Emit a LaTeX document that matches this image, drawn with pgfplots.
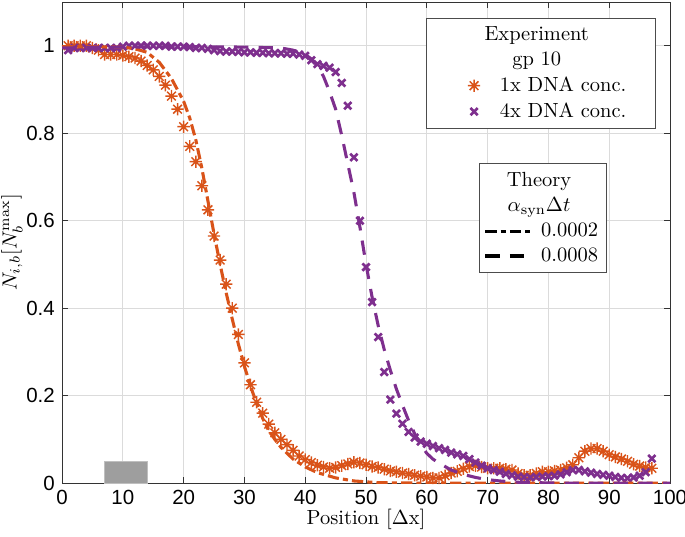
\documentclass[border=0pt]{standalone}
\usepackage{pgfplots}
\pgfplotsset{compat=1.18}
\usepackage{fontspec}
\newfontfamily\ticksf{Liberation Sans}
\definecolor{morange}{RGB}{217,83,25}
\definecolor{mpurple}{RGB}{126,47,142}
\pgfdeclareplotmark{mstar}{%
 \pgfpathmoveto{\pgfqpoint{-\pgfplotmarksize}{0pt}}\pgfpathlineto{\pgfqpoint{\pgfplotmarksize}{0pt}}%
 \pgfpathmoveto{\pgfqpoint{0pt}{-\pgfplotmarksize}}\pgfpathlineto{\pgfqpoint{0pt}{\pgfplotmarksize}}%
 \pgfpathmoveto{\pgfqpoint{-.707\pgfplotmarksize}{-.707\pgfplotmarksize}}\pgfpathlineto{\pgfqpoint{.707\pgfplotmarksize}{.707\pgfplotmarksize}}%
 \pgfpathmoveto{\pgfqpoint{-.707\pgfplotmarksize}{.707\pgfplotmarksize}}\pgfpathlineto{\pgfqpoint{.707\pgfplotmarksize}{-.707\pgfplotmarksize}}%
 \pgfusepathqstroke}
\pgfplotsset{
 common/.style={scale only axis, width=297pt, height=235pt,
  xmin=0, xmax=100, ymin=0, ymax=1.1},
 marklegend/.style={legend image code/.code={\path[draw=none] (0pt,0pt) -- (30pt,0pt); \draw[##1] plot coordinates {(19.4pt,0pt)};}},
}
\begin{document}
\begin{tikzpicture}
\begin{axis}[common,
 xtick={0,10,...,100}, ytick={0,0.2,0.4,0.6,0.8,1},
 yticklabels={0,0.2,0.4,0.6,0.8,1},
 grid=major, major grid style={black!14, line width=0.5pt},
 tick align=inside, major tick length=3pt,
 axis line style={black!80}, every tick/.style={black!80},
 tick label style={font=\ticksf\fontsize{10}{12}\selectfont},
 /pgf/number format/assume math mode=true,
 xlabel={Position [$\Delta$x]},
 ylabel={$N_{i,b}[N_b^{\mathrm{max}}]$},
 xlabel style={yshift=5pt},
 ylabel style={yshift=-5pt},
 legend style={at={(0.977,0.967)}, anchor=north east, draw=black!70, line width=0.6pt,
   inner xsep=4pt, inner ysep=2pt, font=\normalsize},
 legend cell align=left,
]
\addplot[fill=black!38, draw=black!25, forget plot] coordinates {(7,0.05)(14,0.05)} \closedcycle;
\addlegendimage{empty legend}\addlegendentry{\hspace*{18pt}\makebox[0pt][c]{Experiment}}
\addlegendimage{empty legend}\addlegendentry{\hspace*{18pt}\makebox[0pt][c]{gp 10}}
\addplot[only marks, mark=mstar, mark size=3pt, color=morange, line width=0.7pt, forget plot] coordinates {
(1,1.00)(2,1.00)(3,1.00)(4,1.00)(5,0.995)(6,0.99)(7,0.98)(8,0.98)(9,0.98)(10,0.978)
(11,0.975)(12,0.972)(13,0.965)(14,0.955)(15,0.945)(16,0.93)(17,0.91)(18,0.885)(19,0.855)(20,0.815)
(21,0.77)(22,0.735)(23,0.68)(24,0.625)(25,0.565)(26,0.51)(27,0.455)(28,0.40)(29,0.34)(30,0.275)
(31,0.225)(32,0.185)(33,0.16)(34,0.135)(35,0.115)(36,0.10)(37,0.088)(38,0.075)(39,0.062)(40,0.054)
(41,0.047)(42,0.041)(43,0.037)(44,0.034)(45,0.036)(46,0.04)(47,0.044)(48,0.048)(49,0.046)(50,0.042)
(51,0.038)(52,0.036)(53,0.032)(54,0.028)(55,0.026)(56,0.023)(57,0.021)(58,0.018)(59,0.016)(60,0.014)
(61,0.012)(62,0.012)(63,0.017)(64,0.023)(65,0.027)(66,0.033)(67,0.038)(68,0.04)(69,0.037)(70,0.034)
(71,0.034)(72,0.034)(73,0.032)(74,0.03)(75,0.022)(76,0.018)(77,0.018)(78,0.022)(79,0.026)(80,0.026)
(81,0.028)(82,0.03)(83,0.035)(84,0.042)(85,0.058)(86,0.073)(87,0.079)(88,0.079)(89,0.073)(90,0.065)
(91,0.06)(92,0.055)(93,0.05)(94,0.043)(95,0.039)(96,0.036)(97,0.034)
};
\addlegendimage{marklegend, only marks, mark=mstar, mark size=3pt, color=morange, line width=0.7pt}
\addlegendentry{\makebox[70pt][l]{1x DNA conc.}}
\addplot[only marks, mark=x, mark size=2.5pt, color=mpurple, line width=1.3pt, forget plot] coordinates {
(1,0.99)(2,0.995)(3,0.995)(4,0.995)(5,0.995)(6,0.995)(7,0.995)(8,0.995)(9,0.995)(10,0.998)
(11,1.0)(12,1.0)(13,1.0)(14,1.0)(15,1.0)(16,1.0)(17,1.0)(18,0.998)(19,0.998)(20,0.998)
(21,0.997)(22,0.995)(23,0.995)(24,0.993)(25,0.99)(26,0.988)(27,0.987)(28,0.987)(29,0.986)(30,0.985)
(31,0.985)(32,0.984)(33,0.984)(34,0.983)(35,0.983)(36,0.983)(37,0.982)(38,0.982)(39,0.98)(40,0.977)
(41,0.967)(42,0.958)(43,0.954)(44,0.95)(45,0.94)(46,0.915)(47,0.863)(48,0.745)(49,0.60)(50,0.494)
(51,0.414)(52,0.334)(53,0.254)(54,0.191)(55,0.159)(56,0.136)(57,0.117)(58,0.104)(59,0.095)(60,0.09)
(61,0.085)(62,0.08)(63,0.076)(64,0.07)(65,0.066)(66,0.062)(67,0.055)(68,0.047)(69,0.04)(70,0.034)
(71,0.03)(72,0.026)(73,0.021)(74,0.018)(75,0.015)(76,0.014)(77,0.013)(78,0.014)(79,0.015)(80,0.016)
(81,0.017)(82,0.02)(83,0.025)(84,0.03)(85,0.03)(86,0.027)(87,0.024)(88,0.021)(89,0.019)(90,0.017)
(91,0.014)(92,0.012)(93,0.011)(94,0.013)(95,0.017)(96,0.025)(97,0.056)
};
\addlegendimage{marklegend, only marks, mark=x, mark size=2.5pt, color=mpurple, line width=1.3pt}
\addlegendentry{\makebox[70pt][l]{4x DNA conc.}}
\end{axis}
\begin{axis}[common, hide axis,
 legend style={at={(0.896,0.665)}, anchor=north east, draw=black!70, line width=0.6pt,
   inner xsep=2pt, inner ysep=2pt, font=\normalsize, row sep=0pt, column sep=1.5pt},
 legend cell align=left,
 legend image code/.code={\draw[#1] (0pt,0pt) -- (23pt,0pt);},
]
\addlegendimage{empty legend}\addlegendentry{\hspace*{-1pt}\makebox[0pt][c]{Theory}}
\addlegendimage{empty legend}\addlegendentry{\hspace*{-1pt}\makebox[0pt][c]{$\alpha_{\mathrm{syn}}\Delta t$}\rule[-8pt]{0pt}{8pt}}
\addplot[color=morange, line width=1.5pt, dash pattern=on 5.5pt off 2pt on 2.5pt off 2pt, forget plot] coordinates {
(0,0.998)(10,0.997)(12,0.993)(14,0.985)(16,0.962)(18,0.925)(20,0.873)(21,0.835)(22,0.785)(23,0.72)(24,0.645)
(25,0.57)(26,0.50)(27,0.435)(28,0.375)(29,0.318)(30,0.267)(31,0.222)(32,0.182)(33,0.148)(34,0.12)
(35,0.1)(36,0.082)(38,0.055)(40,0.037)(42,0.024)(45,0.012)(48,0.005)(52,0.001)(60,0)(100,0)
};
\addlegendimage{color=black, line width=1.5pt, dash pattern=on 5.5pt off 2pt on 2.5pt off 2pt}
\addlegendentry{0.0002}
\addplot[color=mpurple, line width=1.5pt, dash pattern=on 7pt off 5pt, forget plot] coordinates {
(0,0.995)(10,0.997)(20,0.998)(30,0.997)(36,0.995)(38,0.99)(40,0.98)(41,0.97)(42,0.955)(43,0.93)
(44,0.895)(45,0.855)(46,0.795)(47,0.73)(48,0.665)(49,0.585)(50,0.50)(51,0.425)(52,0.36)(53,0.305)
(54,0.258)(55,0.215)(56,0.178)(57,0.143)(58,0.113)(59,0.088)(60,0.068)(61,0.055)(62,0.046)(63,0.038)
(64,0.03)(66,0.02)(68,0.013)(70,0.008)(72,0.005)(75,0.002)(80,0.0005)(85,0)(100,0)
};
\addlegendimage{color=black, line width=1.5pt, dash pattern=on 7pt off 5pt}
\addlegendentry{0.0008}
\end{axis}
\pgfresetboundingbox
\path[use as bounding box] ([xshift=-30.3pt,yshift=-25.9pt]current axis.south west) rectangle ([xshift=7.3pt,yshift=1pt]current axis.north east);
\end{tikzpicture}
\end{document}
